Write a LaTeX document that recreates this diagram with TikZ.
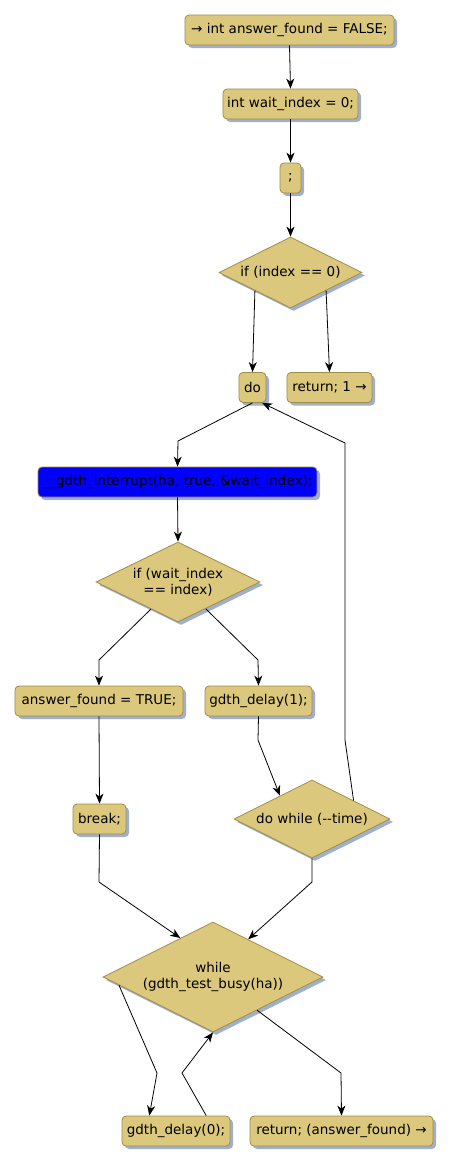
\documentclass[tikz,border=0pt]{standalone}
\usepackage{fontspec}
\setmainfont{DejaVu Sans}
\usetikzlibrary{shapes.geometric,shadows,arrows.meta}
\definecolor{actfill}{RGB}{219,200,125}
\definecolor{actborder}{RGB}{160,140,70}
\definecolor{shadowc}{RGB}{160,175,205}
\tikzset{
  sh/.style={drop shadow={shadow xshift=3pt,shadow yshift=-3pt,fill=shadowc,opacity=1}},
  act/.style={draw=actborder,fill=actfill,rounded corners=4pt,minimum height=30pt,inner sep=0pt,
    font=\fontsize{13.5}{16}\selectfont,align=center,sh,line width=0.8pt},
  cond/.style={draw=actborder,fill=actfill,shape=diamond,inner sep=0pt,shape aspect=2,
    font=\fontsize{13.5}{16}\selectfont,align=center,sh,line width=0.8pt},
  conn/.style={draw=black,line width=0.8pt,-{Stealth[length=10pt,width=8pt,inset=3pt]}},
}
\begin{document}
\begin{tikzpicture}[x=1pt,y=-1pt]
\useasboundingbox (0,0) rectangle (452,1165);
\node[act,minimum width=209pt] (n1) at (289.5,30) {→ int answer\_found = FALSE;};
\node[act,minimum width=135pt] (n2) at (290.5,104) {int wait\_index = 0;};
\node[act,minimum width=21pt] (n3) at (290.5,178) {;};
\node[cond,minimum width=143pt,minimum height=71pt] (d1) at (290.5,272.5) {if (index == 0)};
\node[act,minimum width=27pt] (do) at (252.5,387.5) {do};
\node[act,minimum width=85pt] (r1) at (329.5,387.5) {return; 1 →};
\node[act,minimum width=279pt,fill=blue] (bl) at (177.5,482) {\_\_gdth\_interrupt(ha, true, \&wait\_index);};
\node[cond,minimum width=164pt,minimum height=80pt] (d2) at (178,582) {if (wait\_index\\== index)};
\node[act,minimum width=168pt] (an) at (99,701) {answer\_found = TRUE;};
\node[act,minimum width=107pt] (g1) at (258.5,701) {gdth\_delay(1);};
\node[act,minimum width=53pt] (bk) at (99.5,819) {break;};
\node[cond,minimum width=156pt,minimum height=78pt] (dw) at (312,819) {do while (-{}-time)};
\node[cond,minimum width=220pt,minimum height=110pt] (d3) at (213,977) {while\\(gdth\_test\_busy(ha))};
\node[act,minimum width=108pt] (g0) at (176,1131) {gdth\_delay(0);};
\node[act,minimum width=183pt] (r2) at (341.5,1131) {return; (answer\_found) →};

\coordinate (c1) at (178,441);
\coordinate (c2) at (345,740);
\coordinate (c3) at (345,443);
\coordinate (c4) at (99,660);
\coordinate (c5) at (258,660);
\coordinate (c6) at (258,740);
\coordinate (c7) at (99,882);
\coordinate (c8) at (312,882);
\coordinate (c9) at (157,1073);
\coordinate (c10) at (182,1073);
\coordinate (c11) at (341,1073);

\draw[conn] (n1.south) -- (n2.north);
\draw[conn] (n2.south) -- (n3.north);
\draw[conn] (n3.south) -- (d1.north);
\draw[conn] (d1.207) -- (do.north);
\draw[conn] (d1.333) -- (r1.north);
\draw[conn] (do.south) -- (c1) -- (bl.north);
\draw[conn] (dw.24) -- (c2) -- (c3) -- (do.-58);
\draw[conn] (bl.south) -- (d2.north);
\draw[conn] (d2.225) -- (c4) -- (an.north);
\draw[conn] (d2.316) -- (c5) -- (g1.north);
\draw[conn] (an.south) -- (bk.north);
\draw[conn] (g1.south) -- (c6) -- (dw.144);
\draw[conn] (bk.south) -- (c7) -- (d3.130);
\draw[conn] (dw.south) -- (c8) -- (d3.47);
\draw[conn] (d3.185) -- (c9) -- (g0.150);
\draw[conn] (g0.27) -- (c10) -- (d3.south);
\draw[conn] (d3.323) -- (c11) -- (r2.north);
\end{tikzpicture}
\end{document}
